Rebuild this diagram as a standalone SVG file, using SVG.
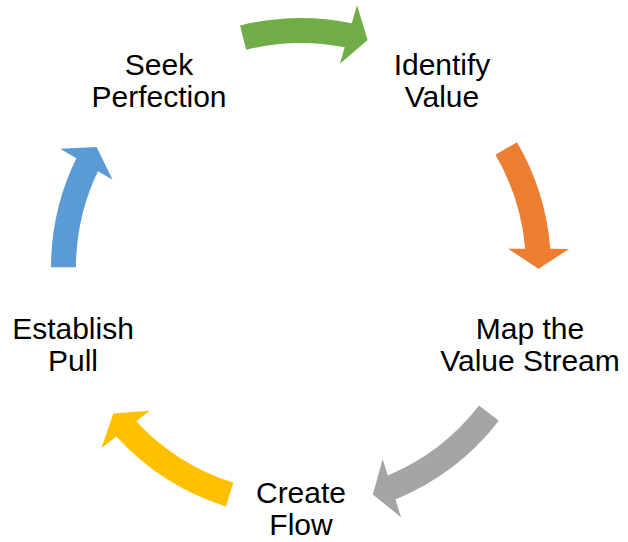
<svg xmlns="http://www.w3.org/2000/svg" xmlns:xlink="http://www.w3.org/1999/xlink" width="628" height="542" viewBox="0 0 628 542">
<style>
text{font-family:"Liberation Sans",Arial,sans-serif;font-size:30px;fill:#000;text-anchor:middle}
</style>
<defs>
<path id="arrS" d="M215.6,-126.5 A250,250 0 0 1 249.2,-20 L268,-20 L237.5,0 L207,-20 L224.1,-20 A225,225 0 0 0 194.1,-113.9 Z"/>
<path id="arrL" d="M205.5,-142.3 A250,250 0 0 1 249.2,-20 L268,-20 L237.5,0 L207,-20 L224.1,-20 A225,225 0 0 0 185,-128.1 Z"/>
</defs>
<rect width="628" height="542" fill="#fff"/>
<g id="connectors">
<use xlink:href="#arrS" href="#arrS" fill="#70AD47" transform="translate(301,268) rotate(-73.7)"/>
<use xlink:href="#arrS" href="#arrS" fill="#ED7D31" transform="translate(301,268) rotate(0.2)"/>
<use xlink:href="#arrL" href="#arrL" fill="#A5A5A5" transform="translate(301,268) rotate(72.4)"/>
<use xlink:href="#arrL" href="#arrL" fill="#FFC000" transform="translate(301,268) rotate(142.2)"/>
<use xlink:href="#arrS" href="#arrS" fill="#5B9BD5" transform="translate(301,268) rotate(210.6)"/>
</g>
<g id="node-seek"><text x="159" y="75">Seek</text><text x="159" y="107">Perfection</text></g>
<g id="node-identify"><text x="442" y="75">Identify</text><text x="442" y="107">Value</text></g>
<g id="node-map"><text x="530" y="339">Map the</text><text x="530" y="371">Value Stream</text></g>
<g id="node-create"><text x="301" y="503">Create</text><text x="301" y="535">Flow</text></g>
<g id="node-establish"><text x="73" y="339">Establish</text><text x="73" y="371">Pull</text></g>
</svg>
